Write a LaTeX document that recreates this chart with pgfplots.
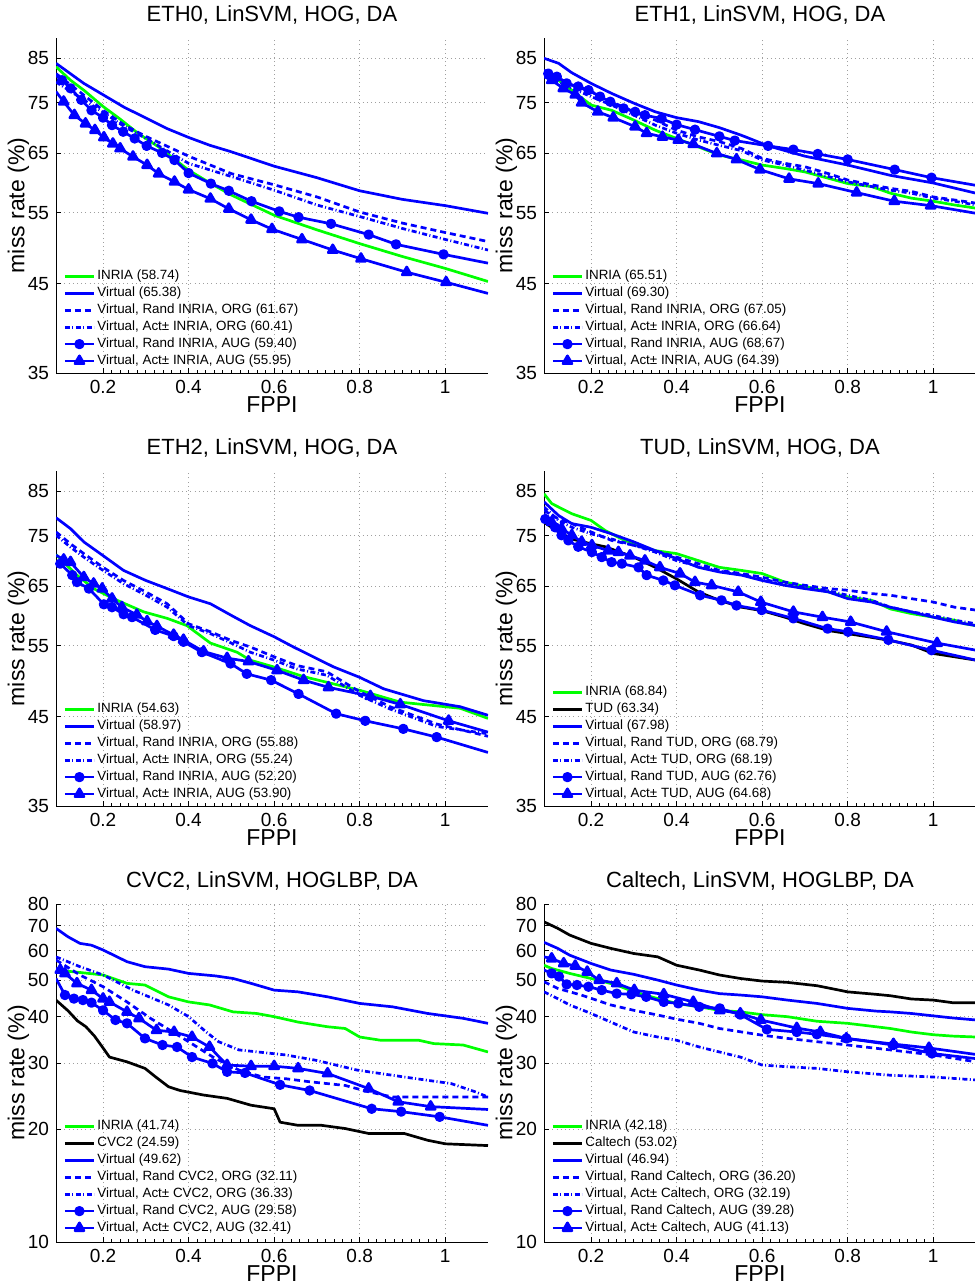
\documentclass[border=0pt]{standalone}
\usepackage{fontspec}
\setmainfont{Liberation Sans}
\usepackage{pgfplots}
\pgfplotsset{compat=1.18}
\definecolor{mblue}{RGB}{0,0,255}
\definecolor{mgreen}{RGB}{0,255,0}

\pgfplotsset{
  legend image code/.code={\draw[#1, mark repeat=2, mark phase=2]
    plot coordinates {(0pt,0pt) (7.25pt,0pt) (14.5pt,0pt)};},
}
\pgfplotsset{
  cI/.style={color=mgreen, line width=1.35pt, line join=round, mark=none},
  cK/.style={color=black, line width=1.35pt, line join=round, mark=none},
  cV/.style={color=mblue, line width=1.35pt, line join=round, mark=none},
  cRO/.style={color=mblue, line width=1.35pt, mark=none, dash pattern=on 3pt off 2pt},
  cAO/.style={color=mblue, line width=1.35pt, mark=none, dash pattern=on 2.5pt off 1.2pt on 0.5pt off 1.2pt},
  cRA/.style={color=mblue, line width=1.35pt, line join=round, mark=*, mark size=1.9pt,
    mark phase=2, mark options={solid, fill=mblue}},
  cAA/.style={color=mblue, line width=1.35pt, line join=round, mark=triangle*, mark size=2.6pt,
    mark phase=2, mark options={solid, fill=mblue}},
  cEnd/.style={color=mblue, line width=1.35pt, line join=round, mark=none},
}

\begin{document}
\begin{tikzpicture}
\useasboundingbox (0,0) rectangle (487.5pt,-641pt);

% ---------------- ETH0
\begin{axis}[
  at={(28pt,-186.5pt)}, anchor=south west,
  scale only axis, width=216pt, height=167.5pt,
  xmin=0.09, xmax=1.1, ymin=35, ymax=90, ymode=log,
  xtick={0.2,0.4,0.6,0.8,1}, xticklabels={0.2,0.4,0.6,0.8,1},
  ytick={35,45,55,65,75,85}, yticklabels={35,45,55,65,75,85},
  minor x tick num=9, yminorticks=false,
  axis x line*=bottom, axis y line*=left,
  grid=major, major grid style={gray!75, line width=0.4pt, dash pattern=on 0.5pt off 1.6pt},
  tick align=inside, major tick length=2.5pt, minor tick length=1.3pt,
  tick style={black, line width=0.4pt},
  tick label style={font=\fontsize{9.5}{10}\selectfont},
  xlabel={FPPI}, ylabel={miss rate (\%)},
  label style={font=\fontsize{11.5}{13}\selectfont},
  xlabel style={at={(axis description cs:0.5,0)}, yshift=-16pt, anchor=center},
  ylabel style={at={(axis description cs:-0.0868,0.5)}, anchor=center},
  title={ETH0, LinSVM, HOG, DA},
  title style={font=\fontsize{11}{13}\selectfont, yshift=-2.7pt},
  legend cell align=left,
  legend style={at={(0,0)}, anchor=south west, xshift=3.8pt, yshift=1.75pt,
    draw=none, fill=none, inner sep=0pt, outer sep=0pt, row sep=0pt,
    font=\fontsize{6.7}{7.5}\selectfont, nodes={inner sep=1.05pt}},
]
\addplot[cI] coordinates {(0.09,83.0) (0.124,79.9) (0.155,77.7) (0.2,74.2) (0.24,71.6) (0.28,68.9) (0.33,66.2) (0.4,62.0) (0.45,59.8) (0.5,57.8) (0.6,54.6) (0.7,52.4) (0.8,50.4) (0.9,48.6) (1.0,47.0) (1.1,45.3)};
\addlegendentry{INRIA (58.74)}
\addplot[cV] coordinates {(0.09,83.8) (0.155,79.2) (0.2,76.7) (0.25,74.0) (0.287,72.4) (0.35,69.7) (0.4,68.0) (0.45,66.5) (0.5,65.3) (0.6,62.7) (0.7,60.7) (0.8,58.5) (0.9,57.1) (1.0,56.1) (1.1,54.9)};
\addlegendentry{Virtual (65.38)}
\addplot[cRO] coordinates {(0.09,81.4) (0.15,77.0) (0.2,73.4) (0.25,70.4) (0.3,68.2) (0.4,64.5) (0.5,61.4) (0.6,59.5) (0.7,57.5) (0.8,55.1) (0.9,53.4) (1.0,52.0) (1.1,50.7)};
\addlegendentry{Virtual, Rand INRIA, ORG (61.67)}
\addplot[cAO] coordinates {(0.09,79.5) (0.15,75.9) (0.2,73.0) (0.25,70.1) (0.3,67.8) (0.4,63.2) (0.5,60.9) (0.6,58.6) (0.7,56.2) (0.8,54.4) (0.9,52.6) (1.0,51.0) (1.1,49.5)};
\addlegendentry{Virtual, Act± INRIA, ORG (60.41)}
\addplot[cRA] coordinates {(0.09,81.0) (0.104,79.9) (0.124,78.1) (0.149,75.6) (0.173,73.4) (0.2,71.9) (0.221,70.4) (0.247,69.1) (0.274,67.8) (0.302,66.4) (0.338,65.1) (0.367,63.8) (0.4,61.5) (0.452,59.7) (0.494,58.5) (0.547,56.8) (0.612,55.2) (0.657,54.3) (0.733,53.3) (0.821,51.7) (0.885,50.3) (0.996,48.9)};
\addlegendentry{Virtual, Rand INRIA, AUG (59.40)}
\addplot[cEnd, forget plot] coordinates {(0.996,48.9) (1.1,47.7)};
\addplot[cAA] coordinates {(0.09,77.4) (0.108,75.2) (0.133,72.4) (0.159,70.7) (0.181,69.4) (0.202,68.0) (0.223,66.8) (0.24,65.9) (0.27,64.4) (0.303,62.9) (0.33,61.4) (0.367,60.0) (0.4,58.7) (0.451,57.2) (0.494,55.6) (0.546,53.9) (0.595,52.5) (0.665,51.0) (0.737,49.5) (0.803,48.3) (0.91,46.5) (1.002,45.2)};
\addlegendentry{Virtual, Act± INRIA, AUG (55.95)}
\addplot[cEnd, forget plot] coordinates {(1.002,45.2) (1.1,43.8)};
\end{axis}

% ---------------- ETH1
\begin{axis}[
  at={(272pt,-186.5pt)}, anchor=south west,
  scale only axis, width=216pt, height=167.5pt,
  xmin=0.09, xmax=1.1, ymin=35, ymax=90, ymode=log,
  xtick={0.2,0.4,0.6,0.8,1}, xticklabels={0.2,0.4,0.6,0.8,1},
  ytick={35,45,55,65,75,85}, yticklabels={35,45,55,65,75,85},
  minor x tick num=9, yminorticks=false,
  axis x line*=bottom, axis y line*=left,
  grid=major, major grid style={gray!75, line width=0.4pt, dash pattern=on 0.5pt off 1.6pt},
  tick align=inside, major tick length=2.5pt, minor tick length=1.3pt,
  tick style={black, line width=0.4pt},
  tick label style={font=\fontsize{9.5}{10}\selectfont},
  xlabel={FPPI}, ylabel={miss rate (\%)},
  label style={font=\fontsize{11.5}{13}\selectfont},
  xlabel style={at={(axis description cs:0.5,0)}, yshift=-16pt, anchor=center},
  ylabel style={at={(axis description cs:-0.0868,0.5)}, anchor=center},
  title={ETH1, LinSVM, HOG, DA},
  title style={font=\fontsize{11}{13}\selectfont, yshift=-2.7pt},
  legend cell align=left,
  legend style={at={(0,0)}, anchor=south west, xshift=3.8pt, yshift=1.75pt,
    draw=none, fill=none, inner sep=0pt, outer sep=0pt, row sep=0pt,
    font=\fontsize{6.7}{7.5}\selectfont, nodes={inner sep=1.05pt}},
]
\addplot[cI] coordinates {(0.09,81.4) (0.124,79.9) (0.155,77.7) (0.2,74.5) (0.248,73.4) (0.3,71.4) (0.35,69.4) (0.4,67.8) (0.451,66.2) (0.5,64.7) (0.552,63.8) (0.6,62.9) (0.653,62.3) (0.7,61.7) (0.755,60.6) (0.8,59.7) (0.856,59.2) (0.9,58.1) (0.949,57.3) (1.0,56.8) (1.05,56.2) (1.1,55.7)};
\addlegendentry{INRIA (65.51)}
\addplot[cV] coordinates {(0.09,85.0) (0.124,83.8) (0.155,81.6) (0.2,79.2) (0.248,77.0) (0.3,74.9) (0.35,73.1) (0.4,71.9) (0.451,71.1) (0.5,69.9) (0.552,68.4) (0.614,66.4) (0.7,64.5) (0.8,62.9) (0.9,61.1) (1.0,59.8) (1.1,58.1)};
\addlegendentry{Virtual (69.30)}
\addplot[cRO] coordinates {(0.09,82.2) (0.155,78.8) (0.2,77.4) (0.248,75.2) (0.3,73.1) (0.35,71.4) (0.4,69.4) (0.451,68.1) (0.5,67.2) (0.552,65.9) (0.6,64.1) (0.653,63.2) (0.7,62.6) (0.755,61.4) (0.8,60.3) (0.856,59.5) (0.9,58.9) (0.949,58.4) (1.0,57.5) (1.05,57.0) (1.1,56.5)};
\addlegendentry{Virtual, Rand INRIA, ORG (67.05)}
\addplot[cAO] coordinates {(0.09,81.1) (0.155,78.1) (0.2,76.3) (0.248,74.5) (0.3,72.4) (0.35,70.4) (0.4,68.8) (0.451,67.5) (0.5,66.5) (0.552,65.5) (0.6,63.8) (0.653,62.9) (0.7,62.0) (0.755,60.9) (0.8,60.0) (0.856,59.2) (0.9,58.6) (0.949,58.1) (1.0,57.3) (1.05,56.8) (1.1,56.2)};
\addlegendentry{Virtual, Act± INRIA, ORG (66.64)}
\addplot[cRA] coordinates {(0.09,81.8) (0.1,81.4) (0.12,80.7) (0.143,79.2) (0.17,78.5) (0.194,77.7) (0.221,76.3) (0.245,75.2) (0.276,73.8) (0.303,73.1) (0.326,72.4) (0.365,71.7) (0.4,70.5) (0.443,69.5) (0.5,68.2) (0.536,67.4) (0.614,66.4) (0.673,65.7) (0.73,64.9) (0.8,63.9) (0.91,62.1) (0.996,60.7)};
\addlegendentry{Virtual, Rand INRIA, AUG (68.67)}
\addplot[cEnd, forget plot] coordinates {(0.996,60.7) (1.1,59.4)};
\addplot[cAA] coordinates {(0.09,80.7) (0.108,79.9) (0.135,78.1) (0.163,76.7) (0.178,75.0) (0.216,73.1) (0.252,71.9) (0.303,70.1) (0.33,68.8) (0.367,68.1) (0.404,67.5) (0.439,66.7) (0.494,65.0) (0.54,63.9) (0.595,62.1) (0.663,60.5) (0.731,59.7) (0.821,58.2) (0.909,56.8) (0.994,56.1)};
\addlegendentry{Virtual, Act± INRIA, AUG (64.39)}
\addplot[cEnd, forget plot] coordinates {(0.994,56.1) (1.1,54.9)};
\end{axis}

% ---------------- ETH2
\begin{axis}[
  at={(28pt,-403pt)}, anchor=south west,
  scale only axis, width=216pt, height=167.5pt,
  xmin=0.09, xmax=1.1, ymin=35, ymax=90, ymode=log,
  xtick={0.2,0.4,0.6,0.8,1}, xticklabels={0.2,0.4,0.6,0.8,1},
  ytick={35,45,55,65,75,85}, yticklabels={35,45,55,65,75,85},
  minor x tick num=9, yminorticks=false,
  axis x line*=bottom, axis y line*=left,
  grid=major, major grid style={gray!75, line width=0.4pt, dash pattern=on 0.5pt off 1.6pt},
  tick align=inside, major tick length=2.5pt, minor tick length=1.3pt,
  tick style={black, line width=0.4pt},
  tick label style={font=\fontsize{9.5}{10}\selectfont},
  xlabel={FPPI}, ylabel={miss rate (\%)},
  label style={font=\fontsize{11.5}{13}\selectfont},
  xlabel style={at={(axis description cs:0.5,0)}, yshift=-16pt, anchor=center},
  ylabel style={at={(axis description cs:-0.0868,0.5)}, anchor=center},
  title={ETH2, LinSVM, HOG, DA},
  title style={font=\fontsize{11}{13}\selectfont, yshift=-2.7pt},
  legend cell align=left,
  legend style={at={(0,0)}, anchor=south west, xshift=3.8pt, yshift=1.75pt,
    draw=none, fill=none, inner sep=0pt, outer sep=0pt, row sep=0pt,
    font=\fontsize{6.7}{7.5}\selectfont, nodes={inner sep=1.05pt}},
]
\addplot[cI] coordinates {(0.09,71.1) (0.139,67.1) (0.178,64.6) (0.233,62.5) (0.295,60.5) (0.35,59.4) (0.396,58.2) (0.451,55.4) (0.513,54.0) (0.544,52.8) (0.599,51.8) (0.669,50.4) (0.8,48.5) (0.895,46.9) (1.035,46.1) (1.1,44.8)};
\addlegendentry{INRIA (54.63)}
\addplot[cV] coordinates {(0.09,78.9) (0.124,76.5) (0.155,73.7) (0.2,70.9) (0.248,68.0) (0.3,66.1) (0.35,64.6) (0.4,63.1) (0.451,61.9) (0.5,59.9) (0.544,58.2) (0.6,56.4) (0.645,54.8) (0.739,51.8) (0.8,50.3) (0.856,48.7) (0.949,47.1) (1.035,46.3) (1.1,45.2)};
\addlegendentry{Virtual (58.97)}
\addplot[cRO] coordinates {(0.09,75.8) (0.124,73.3) (0.155,71.3) (0.2,68.6) (0.248,66.1) (0.3,64.0) (0.35,61.9) (0.4,58.5) (0.451,57.2) (0.5,55.8) (0.544,54.8) (0.6,53.3) (0.653,52.0) (0.723,51.1) (0.8,48.3) (0.871,46.3) (0.98,44.1) (1.1,42.6)};
\addlegendentry{Virtual, Rand INRIA, ORG (55.88)}
\addplot[cAO] coordinates {(0.09,75.1) (0.124,72.6) (0.155,70.6) (0.2,68.0) (0.248,65.5) (0.3,63.4) (0.35,61.3) (0.4,58.2) (0.451,56.9) (0.5,55.4) (0.544,54.0) (0.6,52.8) (0.653,51.5) (0.723,50.6) (0.8,47.8) (0.871,46.0) (0.98,43.8) (1.1,42.9)};
\addlegendentry{Virtual, Act± INRIA, ORG (55.24)}
\addplot[cRA] coordinates {(0.09,69.0) (0.1,69.3) (0.128,67.1) (0.139,65.8) (0.167,64.6) (0.202,61.8) (0.221,61.3) (0.248,60.1) (0.268,59.6) (0.322,57.5) (0.365,56.5) (0.388,55.6) (0.431,54.0) (0.498,52.3) (0.536,50.8) (0.593,49.9) (0.657,48.0) (0.745,45.4) (0.813,44.5) (0.902,43.5) (0.98,42.5)};
\addlegendentry{Virtual, Rand INRIA, AUG (52.20)}
\addplot[cEnd, forget plot] coordinates {(0.98,42.5) (1.1,40.7)};
\addplot[cAA] coordinates {(0.09,71.0) (0.108,70.1) (0.124,69.6) (0.155,66.7) (0.178,65.5) (0.198,64.6) (0.221,62.8) (0.244,61.3) (0.279,60.0) (0.303,58.9) (0.326,58.1) (0.365,56.7) (0.388,55.9) (0.435,54.1) (0.49,53.1) (0.54,52.6) (0.607,51.3) (0.669,49.9) (0.727,48.9) (0.825,47.7) (0.895,46.6) (1.008,44.5)};
\addlegendentry{Virtual, Act± INRIA, AUG (53.90)}
\addplot[cEnd, forget plot] coordinates {(1.008,44.5) (1.1,43.1)};
\end{axis}

% ---------------- TUD
\begin{axis}[
  at={(272pt,-403pt)}, anchor=south west,
  scale only axis, width=216pt, height=167.5pt,
  xmin=0.09, xmax=1.1, ymin=35, ymax=90, ymode=log,
  xtick={0.2,0.4,0.6,0.8,1}, xticklabels={0.2,0.4,0.6,0.8,1},
  ytick={35,45,55,65,75,85}, yticklabels={35,45,55,65,75,85},
  minor x tick num=9, yminorticks=false,
  axis x line*=bottom, axis y line*=left,
  grid=major, major grid style={gray!75, line width=0.4pt, dash pattern=on 0.5pt off 1.6pt},
  tick align=inside, major tick length=2.5pt, minor tick length=1.3pt,
  tick style={black, line width=0.4pt},
  tick label style={font=\fontsize{9.5}{10}\selectfont},
  xlabel={FPPI}, ylabel={miss rate (\%)},
  label style={font=\fontsize{11.5}{13}\selectfont},
  xlabel style={at={(axis description cs:0.5,0)}, yshift=-16pt, anchor=center},
  ylabel style={at={(axis description cs:-0.0868,0.5)}, anchor=center},
  title={TUD, LinSVM, HOG, DA},
  title style={font=\fontsize{11}{13}\selectfont, yshift=-2.7pt},
  legend cell align=left,
  legend style={at={(0,0)}, anchor=south west, xshift=3.8pt, yshift=1.75pt,
    draw=none, fill=none, inner sep=0pt, outer sep=0pt, row sep=0pt,
    font=\fontsize{6.7}{7.5}\selectfont, nodes={inner sep=1.05pt}},
]
\addplot[cI] coordinates {(0.09,84.4) (0.108,82.1) (0.155,79.8) (0.2,78.3) (0.233,76.1) (0.272,74.3) (0.3,73.3) (0.35,71.9) (0.4,71.3) (0.451,69.9) (0.5,68.6) (0.552,68.0) (0.6,67.4) (0.653,65.8) (0.7,65.0) (0.755,64.0) (0.8,63.1) (0.856,62.5) (0.9,61.0) (0.949,60.2) (1.0,59.6) (1.05,59.1) (1.074,58.5) (1.1,58.2)};
\addlegendentry{INRIA (68.84)}
\addplot[cK] coordinates {(0.09,77.9) (0.124,75.8) (0.155,74.3) (0.2,73.3) (0.233,72.7) (0.3,70.6) (0.35,68.6) (0.4,66.4) (0.451,64.0) (0.5,62.5) (0.552,61.3) (0.6,60.7) (0.653,59.6) (0.7,58.5) (0.755,57.4) (0.8,56.9) (0.856,56.3) (0.9,55.8) (0.949,55.1) (1.0,53.8) (1.05,53.3) (1.1,52.8)};
\addlegendentry{TUD (63.34)}
\addplot[cV] coordinates {(0.09,82.5) (0.124,79.4) (0.155,77.6) (0.2,76.8) (0.248,75.4) (0.3,73.7) (0.35,71.9) (0.4,70.3) (0.451,68.6) (0.5,67.7) (0.552,67.1) (0.6,66.1) (0.653,65.2) (0.7,64.6) (0.755,64.0) (0.8,62.8) (0.856,62.2) (0.9,61.3) (0.949,60.5) (1.0,59.6) (1.05,58.8) (1.1,58.2)};
\addlegendentry{Virtual (67.98)}
\addplot[cRO] coordinates {(0.09,80.5) (0.124,78.6) (0.155,77.6) (0.2,75.8) (0.248,74.0) (0.3,73.0) (0.35,71.9) (0.4,70.6) (0.451,69.3) (0.5,68.0) (0.552,67.4) (0.6,66.7) (0.653,65.8) (0.7,65.2) (0.755,64.6) (0.8,64.3) (0.856,63.7) (0.9,63.4) (0.949,62.8) (1.0,62.2) (1.05,61.3) (1.1,60.8)};
\addlegendentry{Virtual, Rand TUD, ORG (68.79)}
\addplot[cAO] coordinates {(0.09,81.3) (0.124,78.3) (0.155,76.8) (0.2,75.4) (0.248,74.3) (0.3,73.0) (0.35,71.6) (0.4,69.9) (0.451,68.8) (0.5,67.9) (0.552,67.1) (0.6,66.4) (0.653,65.4) (0.7,64.9) (0.755,64.2) (0.8,63.4) (0.856,62.5) (0.9,61.3) (0.949,60.5) (1.0,59.9) (1.05,59.1) (1.1,58.5)};
\addlegendentry{Virtual, Act± TUD, ORG (68.19)}
\addplot[cRA] coordinates {(0.09,79.0) (0.093,78.6) (0.116,76.8) (0.131,75.1) (0.147,74.0) (0.17,72.7) (0.202,71.6) (0.225,70.6) (0.248,69.6) (0.272,69.3) (0.311,68.6) (0.33,67.1) (0.369,66.1) (0.396,65.2) (0.455,63.4) (0.505,62.5) (0.54,61.6) (0.599,60.8) (0.673,59.4) (0.753,57.7) (0.801,57.2) (0.895,55.9) (0.996,54.3)};
\addlegendentry{Virtual, Rand TUD, AUG (62.76)}
\addplot[cEnd, forget plot] coordinates {(0.996,54.3) (1.1,52.8)};
\addplot[cAA] coordinates {(0.09,79.8) (0.108,77.9) (0.131,76.5) (0.155,75.1) (0.178,73.7) (0.202,73.0) (0.24,71.9) (0.264,71.6) (0.291,70.9) (0.326,69.9) (0.361,68.6) (0.408,67.4) (0.443,65.8) (0.482,65.2) (0.544,64.0) (0.597,62.2) (0.673,60.5) (0.741,59.6) (0.807,58.8) (0.891,57.2) (1.009,55.4)};
\addlegendentry{Virtual, Act± TUD, AUG (64.68)}
\addplot[cEnd, forget plot] coordinates {(1.009,55.4) (1.1,54.3)};
\end{axis}

% ---------------- CVC2
\begin{axis}[
  at={(28pt,-621pt)}, anchor=south west,
  scale only axis, width=216pt, height=169pt,
  xmin=0.09, xmax=1.1, ymin=10, ymax=80, ymode=log,
  xtick={0.2,0.4,0.6,0.8,1}, xticklabels={0.2,0.4,0.6,0.8,1},
  ytick={10,20,30,40,50,60,70,80}, yticklabels={10,20,30,40,50,60,70,80},
  minor x tick num=9, yminorticks=false,
  axis x line*=bottom, axis y line*=left,
  grid=major, major grid style={gray!75, line width=0.4pt, dash pattern=on 0.5pt off 1.6pt},
  tick align=inside, major tick length=2.5pt, minor tick length=1.3pt,
  tick style={black, line width=0.4pt},
  tick label style={font=\fontsize{9.5}{10}\selectfont},
  xlabel={FPPI}, ylabel={miss rate (\%)},
  label style={font=\fontsize{11.5}{13}\selectfont},
  xlabel style={at={(axis description cs:0.5,0)}, yshift=-16pt, anchor=center},
  ylabel style={at={(axis description cs:-0.0868,0.5)}, anchor=center},
  title={CVC2, LinSVM, HOGLBP, DA},
  title style={font=\fontsize{11}{13}\selectfont, yshift=-2.7pt},
  legend cell align=left,
  legend style={at={(0,0)}, anchor=south west, xshift=3.8pt, yshift=2.75pt,
    draw=none, fill=none, inner sep=0pt, outer sep=0pt, row sep=0pt,
    font=\fontsize{6.7}{7.5}\selectfont, nodes={inner sep=1.05pt}},
]
\addplot[cI] coordinates {(0.09,53.3) (0.146,52.5) (0.2,51.7) (0.256,49.1) (0.298,48.6) (0.353,45.2) (0.4,43.8) (0.449,43.0) (0.504,41.2) (0.559,40.8) (0.6,40.0) (0.656,38.7) (0.725,37.6) (0.766,37.2) (0.8,35.3) (0.849,34.6) (0.938,34.6) (0.973,33.9) (1.042,33.6) (1.1,32.2)};
\addlegendentry{INRIA (41.74)}
\addplot[cK] coordinates {(0.09,44.3) (0.118,41.5) (0.14,39.0) (0.16,37.6) (0.18,35.5) (0.2,33.0) (0.215,31.2) (0.256,30.3) (0.298,29.1) (0.325,27.5) (0.353,26.0) (0.38,25.4) (0.435,24.7) (0.49,24.2) (0.546,23.2) (0.6,22.7) (0.614,20.9) (0.656,20.5) (0.711,20.5) (0.766,20.1) (0.821,19.5) (0.904,19.5) (0.959,18.7) (1.0,18.3) (1.1,18.1)};
\addlegendentry{CVC2 (24.59)}
\addplot[cV] coordinates {(0.09,68.9) (0.118,65.4) (0.146,62.8) (0.173,62.1) (0.2,60.3) (0.256,56.1) (0.298,54.4) (0.353,53.6) (0.4,52.2) (0.463,51.4) (0.504,50.6) (0.546,49.1) (0.6,47.1) (0.656,46.6) (0.725,45.2) (0.8,43.4) (0.877,42.5) (0.959,40.8) (1.042,39.6) (1.1,38.4)};
\addlegendentry{Virtual (49.62)}
\addplot[cRO] coordinates {(0.09,56.7) (0.146,51.7) (0.2,48.1) (0.256,43.8) (0.311,39.6) (0.4,34.3) (0.463,30.9) (0.518,28.8) (0.573,27.6) (0.628,27.3) (0.683,26.8) (0.766,26.2) (0.821,25.2) (0.877,24.4) (1.1,24.4)};
\addlegendentry{Virtual, Rand CVC2, ORG (32.11)}
\addplot[cAO] coordinates {(0.09,57.8) (0.146,54.4) (0.2,51.7) (0.27,47.1) (0.353,43.0) (0.40,40.0) (0.44,36.5) (0.47,34.3) (0.518,32.6) (0.628,31.6) (0.697,30.6) (0.794,28.8) (0.904,27.6) (1.014,26.5) (1.07,25.2) (1.1,24.4)};
\addlegendentry{Virtual, Act± CVC2, ORG (36.33)}
\addplot[cRA] coordinates {(0.09,50.6) (0.111,45.7) (0.132,44.7) (0.153,44.3) (0.173,43.6) (0.2,41.6) (0.229,39.2) (0.256,38.4) (0.298,35.0) (0.339,33.6) (0.373,33.2) (0.408,31.2) (0.456,30.0) (0.49,28.5) (0.532,28.3) (0.614,26.3) (0.683,25.4) (0.828,22.7) (0.897,22.3) (0.987,21.6)};
\addlegendentry{Virtual, Rand CVC2, AUG (29.58)}
\addplot[cEnd, forget plot] coordinates {(0.987,21.6) (1.1,20.5)};
\addplot[cAA] coordinates {(0.09,53.8) (0.1,53.3) (0.111,52.2) (0.139,49.1) (0.173,47.1) (0.2,44.7) (0.215,43.8) (0.256,41.2) (0.284,39.6) (0.325,36.8) (0.366,36.4) (0.408,35.3) (0.449,33.2) (0.49,29.7) (0.546,29.5) (0.6,29.5) (0.656,29.1) (0.725,28.2) (0.821,25.7) (0.89,23.7) (0.966,23.0)};
\addlegendentry{Virtual, Act± CVC2, AUG (32.41)}
\addplot[cEnd, forget plot] coordinates {(0.966,23.0) (1.1,22.6)};
\end{axis}

% ---------------- Caltech
\begin{axis}[
  at={(272pt,-621pt)}, anchor=south west,
  scale only axis, width=216pt, height=169pt,
  xmin=0.09, xmax=1.1, ymin=10, ymax=80, ymode=log,
  xtick={0.2,0.4,0.6,0.8,1}, xticklabels={0.2,0.4,0.6,0.8,1},
  ytick={10,20,30,40,50,60,70,80}, yticklabels={10,20,30,40,50,60,70,80},
  minor x tick num=9, yminorticks=false,
  axis x line*=bottom, axis y line*=left,
  grid=major, major grid style={gray!75, line width=0.4pt, dash pattern=on 0.5pt off 1.6pt},
  tick align=inside, major tick length=2.5pt, minor tick length=1.3pt,
  tick style={black, line width=0.4pt},
  tick label style={font=\fontsize{9.5}{10}\selectfont},
  xlabel={FPPI}, ylabel={miss rate (\%)},
  label style={font=\fontsize{11.5}{13}\selectfont},
  xlabel style={at={(axis description cs:0.5,0)}, yshift=-16pt, anchor=center},
  ylabel style={at={(axis description cs:-0.0868,0.5)}, anchor=center},
  title={Caltech, LinSVM, HOGLBP, DA},
  title style={font=\fontsize{11}{13}\selectfont, yshift=-2.7pt},
  legend cell align=left,
  legend style={at={(0,0)}, anchor=south west, xshift=3.8pt, yshift=2.75pt,
    draw=none, fill=none, inner sep=0pt, outer sep=0pt, row sep=0pt,
    font=\fontsize{6.7}{7.5}\selectfont, nodes={inner sep=1.05pt}},
]
\addplot[cI] coordinates {(0.09,54.9) (0.108,53.8) (0.15,52.2) (0.2,50.6) (0.26,48.6) (0.3,46.6) (0.356,44.7) (0.4,43.4) (0.453,42.5) (0.5,41.6) (0.549,41.2) (0.6,40.5) (0.659,40.0) (0.728,38.9) (0.8,38.4) (0.866,37.6) (0.9,37.2) (0.949,36.4) (1.0,35.8) (1.045,35.5) (1.1,35.3)};
\addlegendentry{INRIA (42.18)}
\addplot[cK] coordinates {(0.09,71.7) (0.122,68.9) (0.15,66.1) (0.2,62.8) (0.246,60.9) (0.3,59.0) (0.356,57.8) (0.4,54.9) (0.453,53.3) (0.5,51.7) (0.549,50.6) (0.6,49.8) (0.659,49.4) (0.728,48.4) (0.8,46.6) (0.866,45.9) (0.9,45.5) (0.949,44.6) (1.0,44.3) (1.045,43.6) (1.1,43.6)};
\addlegendentry{Caltech (53.02)}
\addplot[cV] coordinates {(0.09,63.2) (0.122,60.9) (0.15,58.4) (0.2,55.5) (0.246,53.3) (0.3,51.9) (0.356,50.1) (0.4,48.6) (0.453,47.1) (0.5,46.1) (0.549,45.7) (0.6,45.2) (0.659,44.3) (0.728,43.4) (0.8,42.1) (0.866,41.4) (0.9,41.2) (0.949,40.8) (1.0,40.2) (1.045,39.7) (1.1,39.2)};
\addlegendentry{Virtual (46.94)}
\addplot[cRO] coordinates {(0.09,49.6) (0.122,47.6) (0.177,45.7) (0.246,43.0) (0.3,41.6) (0.356,40.4) (0.4,39.4) (0.453,38.4) (0.5,37.2) (0.6,35.7) (0.659,35.0) (0.728,34.3) (0.8,33.6) (0.9,32.6) (1.0,31.6) (1.1,30.3)};
\addlegendentry{Virtual, Rand Caltech, ORG (36.20)}
\addplot[cAO] coordinates {(0.09,46.6) (0.122,44.7) (0.15,43.0) (0.2,40.8) (0.246,38.7) (0.3,36.4) (0.356,35.3) (0.4,34.6) (0.453,33.2) (0.5,32.2) (0.549,31.2) (0.6,29.7) (0.659,29.4) (0.728,29.1) (0.8,28.5) (0.9,27.9) (1.0,27.6) (1.1,27.1)};
\addlegendentry{Virtual, Act± Caltech, ORG (32.19)}
\addplot[cRA] coordinates {(0.09,53.3) (0.108,52.2) (0.125,51.2) (0.143,48.8) (0.167,48.6) (0.194,48.1) (0.225,47.1) (0.26,46.1) (0.294,45.9) (0.329,45.2) (0.37,43.8) (0.404,43.4) (0.453,42.5) (0.501,42.1) (0.549,40.5) (0.611,37.0) (0.681,36.4) (0.728,35.9) (0.797,35.0) (0.907,33.6) (0.997,31.9)};
\addlegendentry{Virtual, Rand Caltech, AUG (39.28)}
\addplot[cEnd, forget plot] coordinates {(0.997,31.9) (1.1,30.9)};
\addplot[cAA] coordinates {(0.09,57.8) (0.108,57.2) (0.136,55.5) (0.163,54.7) (0.191,52.7) (0.219,50.1) (0.26,49.1) (0.301,47.1) (0.37,45.9) (0.439,43.8) (0.501,41.6) (0.549,40.8) (0.597,39.2) (0.681,37.3) (0.736,36.4) (0.797,35.0) (0.907,33.8) (0.99,33.0)};
\addlegendentry{Virtual, Act± Caltech, AUG (41.13)}
\addplot[cEnd, forget plot] coordinates {(0.99,33.0) (1.1,31.7)};
\end{axis}
\end{tikzpicture}
\end{document}
